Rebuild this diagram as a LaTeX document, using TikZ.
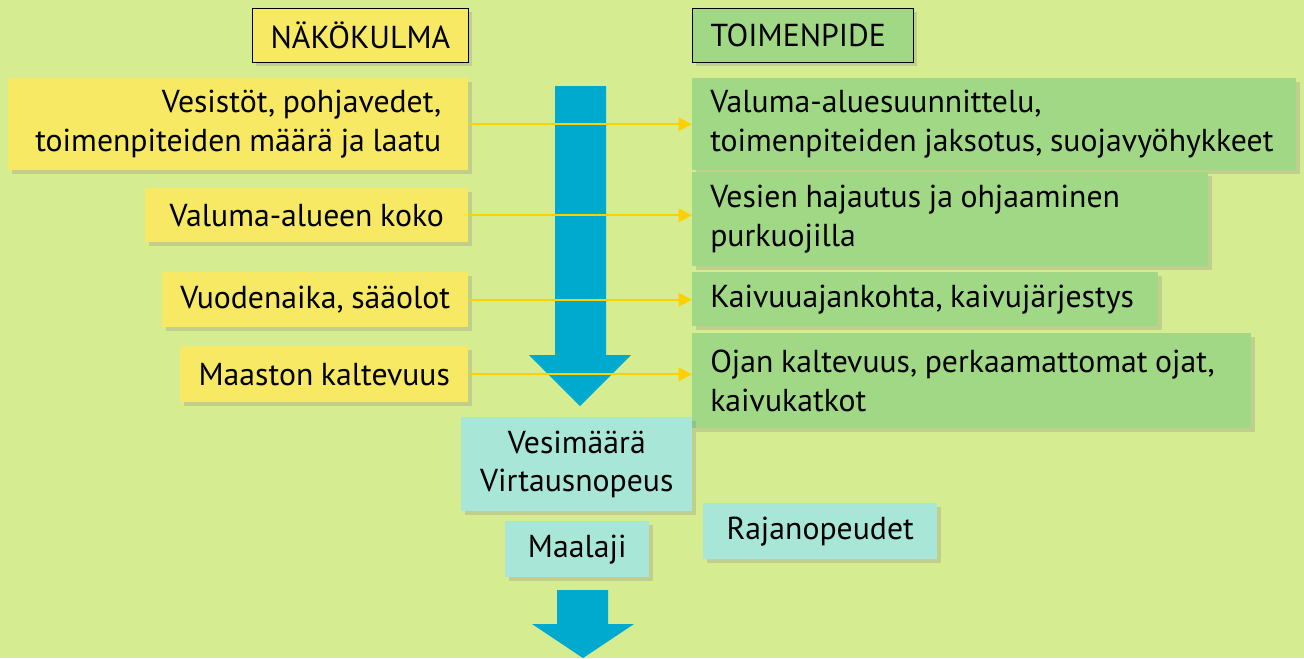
\documentclass[tikz,border=0pt]{standalone}
\usepackage{fontspec}
\setmainfont[WordSpace=0.9]{PT Sans}
\usetikzlibrary{shadows,arrows.meta}
\definecolor{tausta}{RGB}{214,236,145}
\definecolor{keltainen}{RGB}{247,233,99}
\definecolor{vihrea}{RGB}{161,216,133}
\definecolor{turkoosi}{RGB}{168,230,216}
\definecolor{sininen}{RGB}{0,169,206}
\definecolor{viiva}{RGB}{255,208,0}
\tikzset{
  laatikko/.style={anchor=north west, inner xsep=13.5pt, inner ysep=0pt,
    font=\fontsize{23.8}{28.8}\selectfont,
    drop shadow={shadow xshift=2.5pt, shadow yshift=-2.5pt, opacity=0.25}},
  otsikko/.style={laatikko, draw=black, line width=0.9pt, align=flush left},
  nako/.style={laatikko, fill=keltainen, align=right},
  toimi/.style={laatikko, fill=vihrea, align=flush left},
  tekija/.style={laatikko, fill=turkoosi, align=center},
  yhteys/.style={draw=viiva, line width=1.5pt, -{Triangle[length=10pt,width=10pt]}},
}
\begin{document}
\begin{tikzpicture}[x=0.75pt,y=-0.75pt]
      \fill[tausta] (0,0) rectangle (1304,658);
      \useasboundingbox (0,0) rectangle (1304,658);
      % virtaus
      \fill[sininen] (555,86) -- (606,86) -- (606,355) -- (631,355) -- (580,406)
        -- (529,355) -- (555,355) -- cycle;
      \fill[sininen] (557,590) -- (608,590) -- (608,624) -- (634,624) -- (583,658)
        -- (532,624) -- (557,624) -- cycle;
      % otsikot
      \node[otsikko, fill=keltainen, text width=135pt, minimum height=40.5pt]
        (nakokulma) at (252,8) {NÄKÖKULMA};
      \node[otsikko, fill=vihrea, text width=138.75pt, minimum height=40.5pt]
        (toimenpide) at (692,8) {TOIMENPIDE};
      % näkökulmat
      \node[nako, minimum width=345pt, minimum height=69pt]
        (vesistot) at (8,78) {Vesistöt, pohjavedet,\\toimenpiteiden määrä ja laatu};
      \node[nako, minimum width=242.25pt, minimum height=40.5pt]
        (koko) at (145,188) {Valuma-alueen koko};
      \node[nako, minimum width=229.5pt, minimum height=41.25pt]
        (vuodenaika) at (162,272) {Vuodenaika, sääolot};
      \node[nako, minimum width=216pt, minimum height=42pt]
        (kaltevuus) at (180,346) {Maaston kaltevuus};
      % toimenpiteet
      \node[toimi, text width=426pt, minimum height=69pt]
        (suunnittelu) at (692,78) {Valuma-aluesuunnittelu,\\\mbox{toimenpiteiden jaksotus, suojavyöhykkeet}};
      \node[toimi, text width=360pt, minimum height=70.5pt]
        (hajautus) at (692,172) {Vesien hajautus ja ohjaaminen\\purkuojilla};
      \node[toimi, text width=322.5pt, minimum height=40.5pt]
        (kaivuu) at (692,272) {Kaivuuajankohta, kaivujärjestys};
      \node[toimi, text width=392.25pt, minimum height=71.25pt]
        (oja) at (692,333) {Ojan kaltevuus, perkaamattomat ojat,\\kaivukatkot};
      % tekijät
      \node[tekija, minimum width=173.25pt, minimum height=70.5pt]
        (vesimaara) at (461,417) {Vesimäärä\\Virtausnopeus};
      \node[tekija, minimum width=108pt, minimum height=42pt]
        (maalaji) at (505,521) {Maalaji};
      \node[tekija, minimum width=175.5pt, minimum height=42pt]
        (rajanopeudet) at (703,503) {Rajanopeudet};
      \begin{scope}[yhteys]
        \draw (vesistot.east) -- (vesistot.east -| suunnittelu.west);
        \draw (koko.east) -- (koko.east -| hajautus.west);
        \draw (vuodenaika.east) -- (vuodenaika.east -| kaivuu.west);
        \draw (kaltevuus.east) -- (kaltevuus.east -| oja.west);
      \end{scope}
    \end{tikzpicture}
\end{document}
